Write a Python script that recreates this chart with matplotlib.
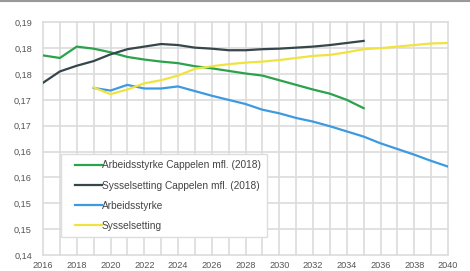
import matplotlib.pyplot as plt
from matplotlib.lines import Line2D
from matplotlib.legend_handler import HandlerLine2D

plt.rcParams["font.family"] = ["Liberation Sans", "DejaVu Sans"]

years_cappelen = list(range(2016, 2036))
arbeid_cappelen = [0.1786, 0.1781, 0.1803, 0.1799, 0.1792, 0.1783, 0.1778, 0.1774,
                   0.1771, 0.1765, 0.1761, 0.1756, 0.1751, 0.1747, 0.1738, 0.1729,
                   0.1720, 0.1712, 0.1700, 0.1684]
syssel_cappelen = [0.1733, 0.1755, 0.1766, 0.1775, 0.1788, 0.1798, 0.1803, 0.1808,
                   0.1806, 0.1801, 0.1799, 0.1796, 0.1796, 0.1798, 0.1799, 0.1801,
                   0.1803, 0.1806, 0.1810, 0.1814]

years_new = list(range(2019, 2041))
arbeid = [0.1723, 0.1718, 0.1729, 0.1722, 0.1722, 0.1726, 0.1717, 0.1708, 0.1700,
          0.1692, 0.1681, 0.1674, 0.1665, 0.1658, 0.1649, 0.1639, 0.1629, 0.1616,
          0.1605, 0.1594, 0.1582, 0.1571]
syssel = [0.1724, 0.1711, 0.1720, 0.1732, 0.1738, 0.1747, 0.1760, 0.1765, 0.1769,
          0.1772, 0.1774, 0.1777, 0.1781, 0.1785, 0.1787, 0.1792, 0.1798, 0.1800,
          0.1803, 0.1806, 0.1809, 0.1810]

y_ticks = [0.14, 0.145, 0.15, 0.155, 0.16, 0.165, 0.17, 0.175, 0.18, 0.185]
y_labels = ["0,14", "0,15", "0,15", "0,16", "0,16", "0,17", "0,17", "0,18", "0,18", "0,19"]
x_ticks = list(range(2016, 2041))
x_labels = [str(y) if y % 2 == 0 else "" for y in x_ticks]

fig = plt.figure(figsize=(4.7, 2.71), dpi=100)
ax = fig.add_axes([43 / 470, 1 - 255 / 271, 405 / 470, (255 - 22.3) / 271])

ax.plot(years_cappelen, arbeid_cappelen, color="#2ba24c", lw=1.6,
        label="Arbeidsstyrke Cappelen mfl. (2018)")
ax.plot(years_cappelen, syssel_cappelen, color="#36464a", lw=1.6,
        label="Sysselsetting Cappelen mfl. (2018)")
ax.plot(years_new, arbeid, color="#3d9ae0", lw=1.6, label="Arbeidsstyrke")
ax.plot(years_new, syssel, color="#f1e33f", lw=1.6, label="Sysselsetting")

ax.set_xlim(2016, 2040)
ax.set_ylim(0.14, 0.185)
ax.set_xticks(x_ticks)
ax.set_xticklabels(x_labels)
ax.set_yticks(y_ticks)
ax.set_yticklabels(y_labels)
ax.tick_params(length=0, labelsize=6.6, colors="#555555", pad=4)
ax.tick_params(axis="y", pad=8)
for s in ax.spines.values():
    s.set_visible(False)
ax.grid(True, color="#dcdcdc", lw=1.2, clip_on=False)
ax.set_axisbelow(True)

leg = ax.legend(loc="lower left", bbox_to_anchor=(0.0437, 0.0774), fontsize=7.3,
                frameon=True, fancybox=False, edgecolor="#dddddd", framealpha=1,
                handlelength=3.46, handletextpad=0.0, labelspacing=1.0,
                borderpad=0.6, borderaxespad=0,
                handler_map={Line2D: HandlerLine2D(xpad=0.82)})
for t in leg.get_texts():
    t.set_color("#444444")

fig.add_artist(Line2D([0, 1], [0.997, 0.997], transform=fig.transFigure,
                      color="#999999", lw=1.5))

fig.savefig("out.png", dpi=100)
